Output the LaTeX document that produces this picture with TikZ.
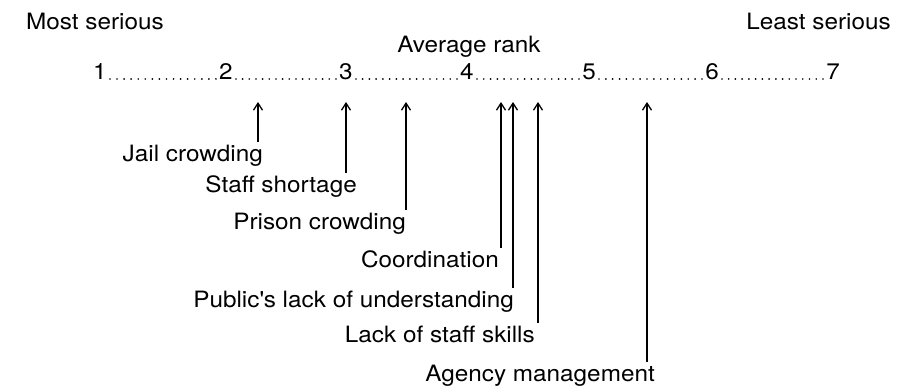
\documentclass[tikz,border=0pt]{standalone}
\usepackage{fontspec}
\setmainfont[FakeStretch=1.08]{TeX Gyre Heros}
\usetikzlibrary{arrows.meta,decorations.markings}
\begin{document}
\begin{tikzpicture}[x=1pt,y=1pt,
  txt/.style={inner sep=0pt,font=\fontsize{22.5}{26}\selectfont},
  num/.style={txt,anchor=base,inner xsep=0.5pt},
  lbl/.style={txt,anchor=base east,inner ysep=3pt},
  dotline/.style={decoration={markings,
      mark=between positions 0 and 1 step 0.0666 with {\fill (0,0) circle[radius=0.95pt];}},
    decorate},
  arr/.style={line width=1.3pt,{Straight Barb[length=7pt,width=9pt,line width=1.3pt]}-}]
\useasboundingbox (0,0) rectangle (900,388);
% headings
\node[txt,anchor=base west] (most) at (26,358) {Most serious};
\node[txt,anchor=base east] (least) at (891,358) {Least serious};
\node[txt,anchor=base] (avg) at (469,335) {Average rank};
% scale
\node[num] (n1) at (100,308) {1};
\node[num] (n2) at (226,308) {2};
\node[num] (n3) at (346,308) {3};
\node[num] (n4) at (467,308) {4};
\node[num] (n5) at (589,308) {5};
\node[num] (n6) at (712,308) {6};
\node[num] (n7) at (833,308) {7};
\foreach \a/\b in {n1/n2,n2/n3,n3/n4,n4/n5,n5/n6,n6/n7}
  \path[dotline] ([xshift=2.5pt,yshift=1pt]\a.base east) -- ([xshift=-2.5pt,yshift=1pt]\b.base west);
% arrow tops
\coordinate (tj) at (258,286);
\coordinate (ts) at (346,286);
\coordinate (tp) at (406,286);
\coordinate (tc) at (501,286);
\coordinate (tu) at (513,286);
\coordinate (tl) at (538,286);
\coordinate (ta) at (647,286);
% labels
\node[lbl] (jail) at (263,226) {Jail crowding};
\node[lbl] (staff) at (357,195) {Staff shortage};
\node[lbl] (prison) at (406,158) {Prison crowding};
\node[lbl] (coord) at (499,120) {Coordination};
\node[lbl] (public) at (514,80) {Public\textquotesingle s lack of understanding};
\node[lbl] (lack) at (535,45) {Lack of staff skills};
\node[lbl] (agency) at (655,6) {Agency management};
% arrows
\draw[arr] (tj) -- (tj |- jail.north);
\draw[arr] (ts) -- (ts |- staff.north);
\draw[arr] (tp) -- (tp |- prison.north);
\draw[arr] (tc) -- (tc |- coord.north);
\draw[arr] (tu) -- (tu |- public.north);
\draw[arr] (tl) -- (tl |- lack.north);
\draw[arr] (ta) -- (ta |- agency.north);
\end{tikzpicture}
\end{document}
